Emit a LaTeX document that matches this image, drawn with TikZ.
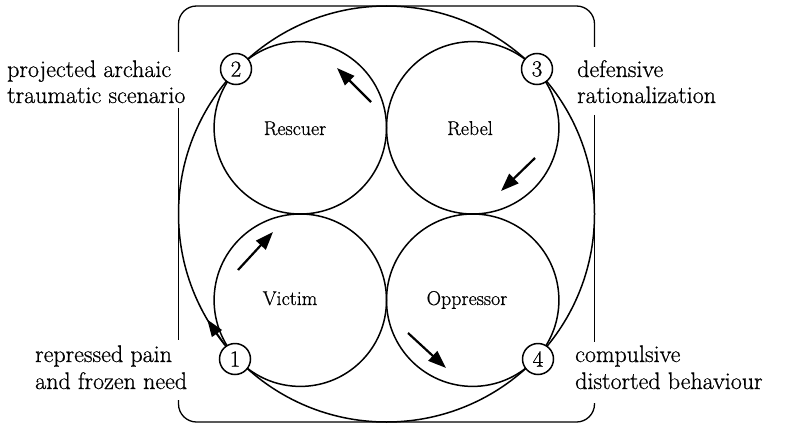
\documentclass[tikz,border=0pt]{standalone}
\usepackage{fontspec}
\newfontfamily\labelfont{Latin Modern Roman}[FakeBold=0.7]
\usetikzlibrary{arrows.meta,calc}
\begin{document}
\begin{tikzpicture}[x=1pt,y=-1pt,
  ring/.style={circle,draw,line width=1.5pt,inner sep=0pt},
  numbox/.style={circle,draw,fill=white,line width=1.5pt,inner sep=0pt,
    minimum size=31pt,font=\labelfont\fontsize{23}{23}\selectfont},
  rolelabel/.style={anchor=base,inner sep=0pt,font=\labelfont\fontsize{20}{22}\selectfont},
  sidelabel/.style={anchor=base west,inner sep=0pt,font=\labelfont\fontsize{24}{26}\selectfont},
  frameline/.style={line width=1.3pt,rounded corners=18pt},
  flow/.style={line width=2.2pt,-{Triangle[length=18pt,width=13pt]}},
  circflow/.style={line width=1.5pt,-{Triangle[length=17pt,width=12pt]}}
]
\useasboundingbox (0,0) rectangle (786,425);
\coordinate (O) at (386.5,214);

% open frame, broken where the side texts stand
\draw[frameline] (178.5,52) -- (178.5,6) -- (594.5,6) -- (594.5,47);
\draw[frameline] (178.5,108) -- (178.5,340);
\draw[frameline] (594.5,115) -- (594.5,342);
\draw[frameline] (178.5,400) -- (178.5,422) -- (594.5,422) -- (594.5,403);

% outer circle and the four role circles
\node[ring,minimum size=416pt] (outer) at (O) {};
\node[ring,minimum size=172.4pt] (resc) at ($(O)+(-86.2,-86.2)$) {};
\node[ring,minimum size=172.4pt] (rebel) at ($(O)+(86.2,-86.2)$) {};
\node[ring,minimum size=172.4pt] (victim) at ($(O)+(-86.2,86.2)$) {};
\node[ring,minimum size=172.4pt] (opp) at ($(O)+(86.2,86.2)$) {};

% role names
\node[rolelabel] (tresc) at (295,135) {Rescuer};
\node[rolelabel] (trebel) at (470,135) {Rebel};
\node[rolelabel] (tvictim) at (290,305) {Victim};
\node[rolelabel] (topp) at (467,305) {Oppressor};

% direction of the cycle
\coordinate (a1s) at (371,102);  \coordinate (a1e) at (337,68);
\coordinate (a2s) at (535,158);  \coordinate (a2e) at (501,191);
\coordinate (a3s) at (238,270);  \coordinate (a3e) at (273,232);
\coordinate (a4s) at (408,333);  \coordinate (a4e) at (446,368);
\coordinate (a5s) at ($(O)+(141:208)$);
\coordinate (a5e) at ($(O)+(149.5:208)$);
\draw[flow] (a1s) -- (a1e);
\draw[flow] (a2s) -- (a2e);
\draw[flow] (a3s) -- (a3e);
\draw[flow] (a4s) -- (a4e);
\draw[circflow] (a5s) -- (a5e);

% numbered stages on the outer circle
\node[numbox] (n2) at (236,69) {2};
\node[numbox] (n3) at (537,69) {3};
\node[numbox] (n1) at (235,359) {1};
\node[numbox] (n4) at (538,359) {4};

% stage descriptions
\node[sidelabel] (l2a) at (7,77) {projected archaic};
\node[sidelabel] (l2b) at (7,103) {traumatic scenario};
\node[sidelabel] (l3a) at (577,77) {defensive};
\node[sidelabel] (l3b) at (577,103) {rationalization};
\node[sidelabel] (l1a) at (35,362) {repressed pain};
\node[sidelabel] (l1b) at (35,389) {and frozen need};
\node[sidelabel] (l4a) at (575,362) {compulsive};
\node[sidelabel] (l4b) at (575,389) {distorted behaviour};
\end{tikzpicture}
\end{document}
